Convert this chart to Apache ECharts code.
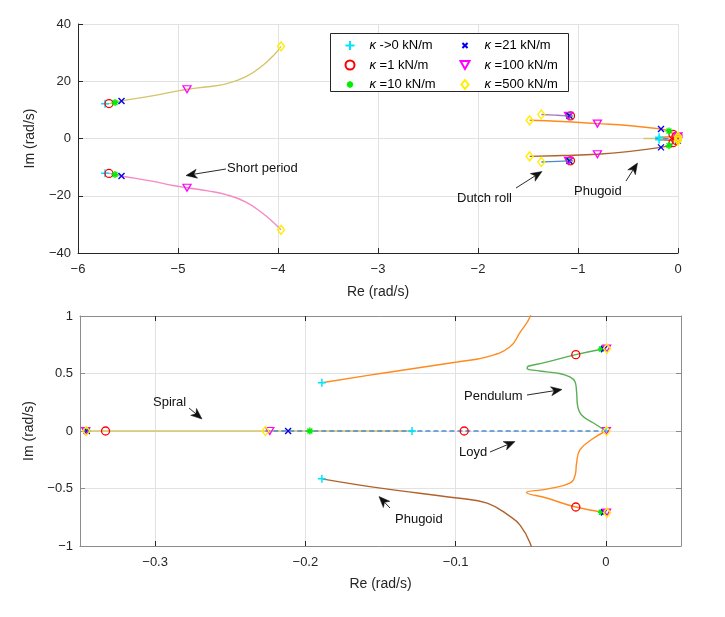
<!DOCTYPE html>
<html>
<head>
<meta charset="utf-8">
<script src="https://cdn.jsdelivr.net/npm/echarts@6/dist/echarts.min.js"></script>
<style>html,body{margin:0;padding:0;background:#fff}#c{width:725px;height:617px}</style>
</head>
<body>
<div id="c"></div>
<script>
// ---------------- data ----------------
const kappaNames = ['κ ->0 kN/m', 'κ =1 kN/m', 'κ =10 kN/m', 'κ =21 kN/m', 'κ =100 kN/m', 'κ =500 kN/m'];

const topXTicks = [-6, -5, -4, -3, -2, -1, 0];
const topYTicks = [-40, -20, 0, 20, 40];
const botXTicks = [-0.3, -0.2, -0.1, 0];
const botYTicks = [-1, -0.5, 0, 0.5, 1];

// root-locus branches [Re, Im]
const shortPeriodUpper = [[-5.73,12.1],[-5.69,12.2],[-5.63,12.6],[-5.565,13.1],[-5.26,14.9],[-5.05,16.3],[-4.91,17.2],[-4.70,18.1],[-4.52,19.1],[-4.32,21.6],[-4.15,25.6],[-4.04,29.2],[-3.97,32.2]];
const shortPeriodLower = [[-5.73,-12.1],[-5.69,-12.2],[-5.63,-12.6],[-5.565,-13.1],[-5.26,-14.9],[-5.05,-16.4],[-4.91,-17.2],[-4.70,-18.3],[-4.52,-19.6],[-4.32,-22.2],[-4.15,-26.2],[-4.04,-29.5],[-3.97,-31.9]];
const dutchRollUpper = [[-1.09,7.9],[-1.20,8.1],[-1.367,8.4]];
const dutchRollLower = [[-1.09,-7.8],[-1.20,-8.0],[-1.367,-8.2]];
const phugoidUpper = [[-0.189,0.42],[-0.150,0.50],[-0.099,0.60],[-0.079,0.645],[-0.064,0.73],[-0.057,0.86],[-0.0506,0.99],[-0.046,1.2],[-0.05,1.45],[-0.06,2.0],[-0.09,2.6],[-0.17,3.3],[-0.50,4.55],[-0.806,5.2],[-1.16,5.95],[-1.484,6.35]];
const phugoidLower = [[-0.189,-0.416],[-0.150,-0.497],[-0.099,-0.583],[-0.079,-0.627],[-0.064,-0.74],[-0.057,-0.82],[-0.0506,-0.97],[-0.046,-1.2],[-0.05,-1.45],[-0.06,-2.0],[-0.09,-2.5],[-0.17,-3.1],[-0.50,-4.6],[-0.806,-5.5],[-1.16,-5.95],[-1.484,-6.25]];
const pendulumUpper = [[0,0],[-0.0085,0.072],[-0.0162,0.139],[-0.0189,0.226],[-0.0195,0.342],[-0.0206,0.43],[-0.024,0.47],[-0.031,0.50],[-0.0395,0.514],[-0.0484,0.529],[-0.0524,0.543],[-0.0517,0.563],[-0.0417,0.592],[-0.020,0.664],[-0.001,0.715]];
const pendulumLower = [[0,0],[-0.009,-0.07],[-0.0173,-0.165],[-0.0195,-0.28],[-0.0204,-0.381],[-0.024,-0.453],[-0.0395,-0.505],[-0.0528,-0.534],[-0.0395,-0.583],[-0.020,-0.661],[-0.001,-0.708]];
const spiral = [[-0.346,0],[-0.129,0]];
const loyd = [[-0.2266,0],[0,0]];

// eigenvalues at each stiffness
const markersK0 = [[-5.73,12.1],[-5.73,-12.1],[-1.09,7.9],[-1.09,-7.8],[-0.189,0.42],[-0.189,-0.416],[-0.129,0],[0,0]];
const markersK1 = [[-5.69,12.2],[-5.69,-12.2],[-1.075,7.9],[-1.075,-7.8],[-0.05,1.45],[-0.05,-1.45],[-0.020,0.664],[-0.020,-0.661],[-0.0943,0],[-0.333,0]];
const markersK10 = [[-5.63,12.6],[-5.63,-12.6],[-1.09,7.9],[-1.09,-7.8],[-0.09,2.6],[-0.09,-2.5],[-0.003,0.713],[-0.003,-0.706],[-0.197,0],[-0.3452,0]];
const markersK21 = [[-5.565,13.1],[-5.565,-13.1],[-1.085,7.95],[-1.085,-7.85],[-0.17,3.3],[-0.17,-3.1],[-0.0012,0.714],[-0.0012,-0.707],[-0.2115,0],[-0.3455,0]];
const markersK100 = [[-4.91,17.2],[-4.91,-17.2],[-1.095,7.9],[-1.095,-7.8],[-0.806,5.2],[-0.806,-5.5],[0.0005,0.716],[0.0005,-0.709],[-0.2237,0],[-0.3462,0],[0.0003,0]];
const markersK500 = [[-3.97,32.2],[-3.97,-31.9],[-1.367,8.4],[-1.367,-8.2],[-1.484,6.35],[-1.484,-6.25],[0.0008,0.717],[0.0008,-0.71],[-0.2266,0],[-0.3458,0],[0.0005,0]];

// ---------------- styling ----------------
const FONT = '"Liberation Sans", Arial, Helvetica, sans-serif';
const AX = '#262626';
const GRIDC = '#e2e2e2';

const branches = [
  {data: shortPeriodUpper, color: '#d6c46a'},
  {data: shortPeriodLower, color: '#f58ac3'},
  {data: dutchRollUpper, color: '#a57dc0'},
  {data: dutchRollLower, color: '#4a8ccc'},
  {data: phugoidUpper, color: '#ff8a1e'},
  {data: phugoidLower, color: '#b0622c'},
  {data: pendulumUpper, color: '#5aae55'},
  {data: pendulumLower, color: '#ff8a1e'},
  {data: spiral, color: '#d6c46a'},
  {data: loyd, color: '#4a8ccc', dashed: true}
];

const markerSets = [
  {data: markersK0, symbol: 'path://M4,0V8M0,4H8', legendIcon: 'path://M4,0V8M0,4H8', size: [8,8], stroke: '#00e5ff', w: 1.5},
  {data: markersK1, symbol: 'circle', legendIcon: 'circle', size: 8, stroke: '#ff0000', w: 1.3},
  {data: markersK10, symbol: 'path://M4,0V8M0,4H8M1.2,1.2L6.8,6.8M6.8,1.2L1.2,6.8', legendIcon: 'path://M-1.5,-1.5M9.5,9.5M4,0V8M0,4H8M1.2,1.2L6.8,6.8M6.8,1.2L1.2,6.8', size: [7,7], stroke: '#00ee00', w: 1.4},
  {data: markersK21, symbol: 'path://M0,0L8,8M8,0L0,8', legendIcon: 'path://M-3,-3M11,11M0,0L8,8M8,0L0,8', size: [6,6], stroke: '#0000ee', w: 1.4},
  {data: markersK100, symbol: 'path://M0,0H8L4,7Z', legendIcon: 'path://M0,0H8L4,7Z', size: [8,7], stroke: '#ff00ff', w: 1.3},
  {data: markersK500, symbol: 'path://M4,0L8,5L4,10L0,5Z', legendIcon: 'path://M4,0L8,5L4,10L0,5Z', size: [7,9], stroke: '#ffee00', w: 1.4}
];

function fmt(v) {
  const a = parseFloat(Math.abs(v).toFixed(3));
  return (v < 0 ? '\u2212' : '') + a;
}

const series = [];
[0, 1].forEach(g => {
  branches.forEach(b => {
    series.push({
      type: 'line', xAxisIndex: g, yAxisIndex: g, data: b.data,
      showSymbol: false, smooth: 0.45, silent: true, z: 2,
      lineStyle: {color: b.color, width: 1.4, type: b.dashed ? [5, 3] : 'solid'},
      emphasis: {disabled: true}
    });
  });
  markerSets.forEach((m, i) => {
    // the upper (wide-scale) panel only shows the complex-pair eigenvalues and the origin
    const pts = g === 0 ? m.data.filter(p => p[1] !== 0 || Math.abs(p[0]) < 0.001) : m.data;
    series.push({
      type: 'scatter', name: kappaNames[i], xAxisIndex: g, yAxisIndex: g, data: pts,
      symbol: m.symbol, symbolSize: m.size, z: 5, silent: true,
      itemStyle: {color: 'rgba(0,0,0,0)', borderColor: m.stroke, borderWidth: m.w, opacity: 1},
      emphasis: {disabled: true}
    });
  });
});

function valueAxis(o) {
  return Object.assign({
    type: 'value',
    axisLine: {show: true, onZero: false, lineStyle: {color: AX, width: 1}},
    axisTick: {show: true, inside: true, length: 5, lineStyle: {color: AX}},
    axisLabel: {formatter: fmt, fontSize: 13, color: AX, fontFamily: FONT, margin: 7},
    splitLine: {show: true, lineStyle: {color: GRIDC, width: 1}},
    nameTextStyle: {fontSize: 14, color: AX, fontFamily: FONT},
    nameLocation: 'middle'
  }, o);
}

const BOX = '#8c8c8c';

const option = {
  animation: false,
  backgroundColor: '#fff',
  grid: [
    {left: 78, top: 24, width: 600, height: 229},
    {left: 80, top: 316, width: 601, height: 230}
  ],
  xAxis: [
    valueAxis({gridIndex: 0, min: topXTicks[0], max: topXTicks[topXTicks.length-1], interval: 1, name: 'Re (rad/s)', nameGap: 32,
      axisLabel: {formatter: fmt, fontSize: 13, color: AX, fontFamily: FONT, margin: 10}}),
    valueAxis({gridIndex: 1, min: -0.35, max: 0.05, name: 'Re (rad/s)', nameGap: 31,
      axisLine: {show: true, onZero: false, lineStyle: {color: BOX}},
      axisTick: {show: true, inside: true, length: 5, lineStyle: {color: AX}, customValues: botXTicks},
      axisLabel: {formatter: fmt, fontSize: 13, color: AX, fontFamily: FONT, margin: 10, customValues: botXTicks}}),
    valueAxis({gridIndex: 1, min: -0.35, max: 0.05, position: 'top',
      axisLine: {show: true, onZero: false, lineStyle: {color: BOX}},
      axisTick: {show: true, inside: true, length: 5, lineStyle: {color: AX}, customValues: botXTicks},
      axisLabel: {show: false}, splitLine: {show: false}})
  ],
  yAxis: [
    valueAxis({gridIndex: 0, min: topYTicks[0], max: topYTicks[topYTicks.length-1], interval: 20, name: 'Im (rad/s)', nameGap: 41}),
    valueAxis({gridIndex: 1, min: botYTicks[0], max: botYTicks[botYTicks.length-1], interval: 0.5, name: 'Im (rad/s)', nameGap: 41,
      axisLine: {show: true, onZero: false, lineStyle: {color: BOX}},
      axisTick: {show: true, inside: true, length: 5, lineStyle: {color: BOX}}}),
    valueAxis({gridIndex: 1, min: botYTicks[0], max: botYTicks[botYTicks.length-1], interval: 0.5, position: 'right',
      axisLine: {show: true, onZero: false, lineStyle: {color: BOX}},
      axisTick: {show: true, inside: true, length: 5, lineStyle: {color: BOX}},
      axisLabel: {show: false}, splitLine: {show: false}})
  ],
  legend: [0, 1].map(c => ({
    data: kappaNames.slice(c * 3, c * 3 + 3).map((n, j) => ({name: n, icon: markerSets[c * 3 + j].legendIcon})),
    orient: 'vertical', left: c === 0 ? 344.5 : 459.5, top: 38.5, padding: 0,
    itemWidth: 9, itemHeight: 9, itemGap: 5.5, selectedMode: false, z: 6,
    formatter: n => '{k|κ}' + n.slice(1),
    textStyle: {fontSize: 13, color: '#000', fontFamily: FONT, lineHeight: 14,
      rich: {k: {fontStyle: 'italic', fontSize: 13, fontFamily: FONT, padding: [0, 0, 0, 10], lineHeight: 14}}}
  })),
  graphic: [],
  series: series
};

// legend frame
option.graphic.push({type: 'rect', z: 4, silent: true,
  shape: {x: 330.5, y: 33.5, width: 238, height: 58},
  style: {fill: '#fff', stroke: AX, lineWidth: 1}});

// annotations
function addText(t, x, y) {
  option.graphic.push({type: 'text', z: 7, silent: true, x: x, y: y,
    style: {text: t, font: '13px ' + FONT, fill: '#111', textVerticalAlign: 'middle', textAlign: 'left'}});
}
function addArrow(x1, y1, x2, y2) {
  const dx = x2 - x1, dy = y2 - y1, L = Math.hypot(dx, dy);
  const ux = dx / L, uy = dy / L, px = -uy, py = ux;
  const hl = 11, hw = 4.5, notch = 3;
  const bx = x2 - ux * hl, by = y2 - uy * hl;
  const nx = x2 - ux * (hl - notch), ny = y2 - uy * (hl - notch);
  option.graphic.push({type: 'line', z: 7, silent: true,
    shape: {x1: x1, y1: y1, x2: nx, y2: ny}, style: {stroke: '#111', lineWidth: 0.9}});
  option.graphic.push({type: 'polygon', z: 7, silent: true,
    shape: {points: [[x2, y2], [bx + px * hw, by + py * hw], [nx, ny], [bx - px * hw, by - py * hw]]},
    style: {fill: '#111', stroke: '#111', lineWidth: 0.5}});
}
addText('Short period', 227, 168); addArrow(226, 169, 186, 175.5);
addText('Dutch roll', 457, 198); addArrow(516, 188, 542, 171.5);
addText('Phugoid', 574, 191); addArrow(626, 181, 637.5, 163);
addText('Spiral', 153, 402); addArrow(189, 408, 202, 419);
addText('Pendulum', 464, 396); addArrow(527, 395, 562, 389.5);
addText('Loyd', 459, 452); addArrow(490, 452, 515, 441.5);
addText('Phugoid', 395, 519); addArrow(390, 508, 379, 496.5);

const chart = echarts.init(document.getElementById('c'), null, {renderer: 'canvas'});
chart.setOption(option);
</script>
</body>
</html>
